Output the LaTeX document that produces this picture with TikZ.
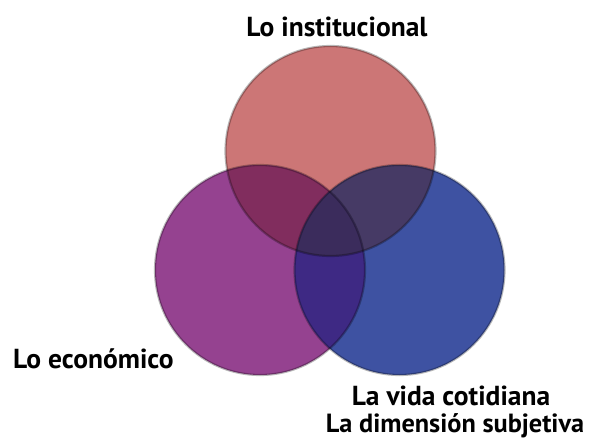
\documentclass[tikz,border=0pt]{standalone}
\usepackage{fontspec}
\setmainfont{PT Sans}
\definecolor{cT}{RGB}{204,118,118}
\definecolor{cL}{RGB}{149,66,144}
\definecolor{cR}{RGB}{62,82,162}
\definecolor{cTL}{RGB}{129,45,94}
\definecolor{cTR}{RGB}{70,58,101}
\definecolor{cLR}{RGB}{62,41,132}
\definecolor{cTLR}{RGB}{59,44,92}
\begin{document}
\begin{tikzpicture}[x=1pt,y=-1pt,
  lbl/.style={font=\bfseries\fontsize{27.5}{30}\selectfont, inner sep=0pt, text=black},
  ring/.style={draw=black, draw opacity=0.28, line width=2.2pt}]
\useasboundingbox[fill=white] (0,0) rectangle (589,441);
\coordinate (T) at (330.5,151);
\coordinate (L) at (260,270);
\coordinate (R) at (399.5,270);
\def\rad{105}
% base fills
\fill[cT] (T) circle (\rad);
\fill[cL] (L) circle (\rad);
\fill[cR] (R) circle (\rad);
% pairwise overlaps
\begin{scope}
  \clip (T) circle (\rad);
  \fill[cTL] (L) circle (\rad);
  \fill[cTR] (R) circle (\rad);
\end{scope}
\begin{scope}
  \clip (L) circle (\rad);
  \fill[cLR] (R) circle (\rad);
\end{scope}
\begin{scope}
  \clip (T) circle (\rad);
  \clip (L) circle (\rad);
  \fill[cTLR] (R) circle (\rad);
\end{scope}
% outlines
\draw[ring] (T) circle (\rad);
\draw[ring] (L) circle (\rad);
\draw[ring] (R) circle (\rad);
% labels
\node[lbl, anchor=base] (inst) at (337,37) {Lo institucional};
\node[lbl, anchor=base west] (econ) at (13,368) {Lo económico};
\node[lbl, anchor=base] (vida) at (451,405) {La vida cotidiana};
\node[lbl, anchor=base, font=\bfseries\fontsize{26.3}{29}\selectfont] (subj) at (455,432) {La dimensión subjetiva};
\end{tikzpicture}
\end{document}
